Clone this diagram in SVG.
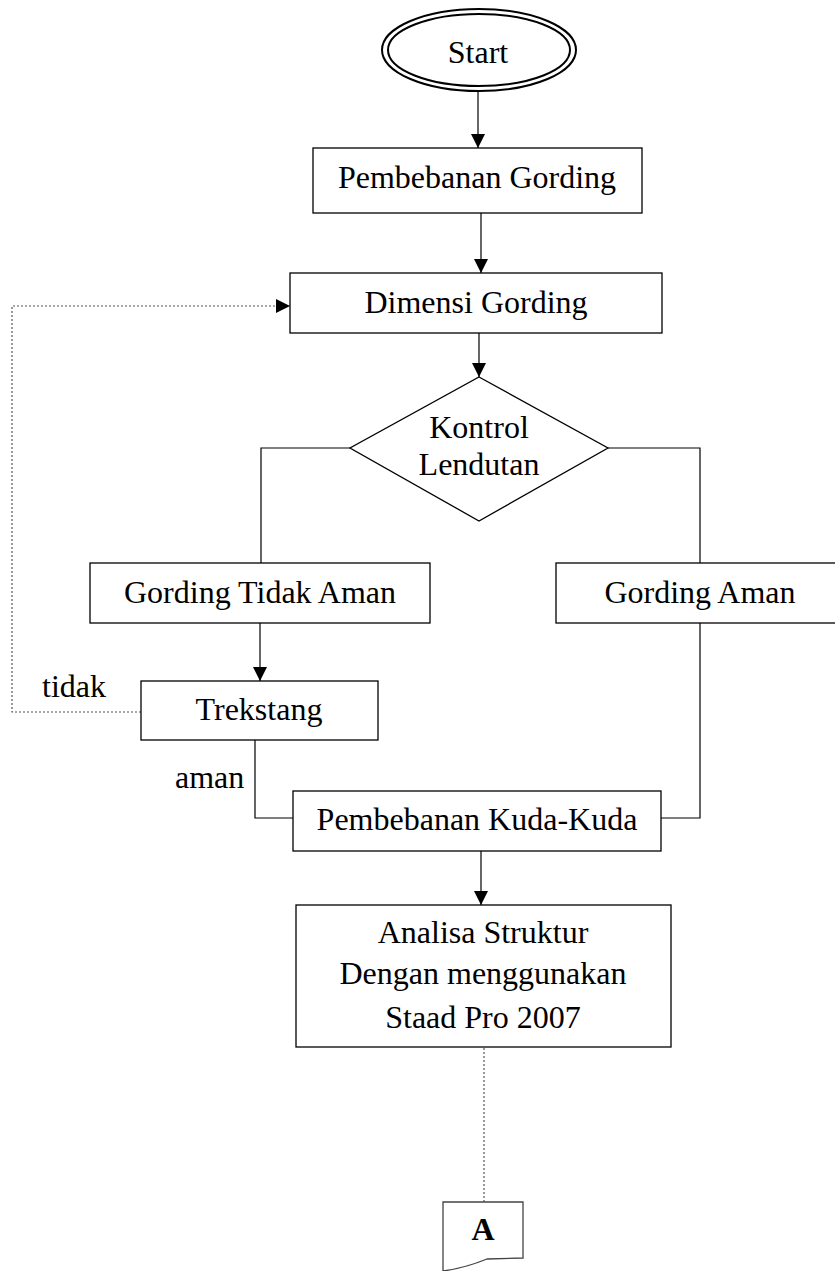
<svg xmlns="http://www.w3.org/2000/svg" width="835" height="1271" viewBox="0 0 835 1271">
<defs>
<style>
.box{fill:#fff;stroke:#000;stroke-width:1.3}
.t{font-family:"Liberation Serif","Times New Roman",serif;font-size:32px;fill:#000;text-anchor:middle}
.l{font-family:"Liberation Serif","Times New Roman",serif;font-size:32px;fill:#000}
.c{fill:none;stroke:#000;stroke-width:1.2}
.d{fill:none;stroke:#555;stroke-width:1.2;stroke-dasharray:2,2}
</style>
<marker id="ah2" viewBox="0 0 14 14" refX="14" refY="7" markerWidth="14" markerHeight="14" markerUnits="userSpaceOnUse" orient="auto">
<path d="M0,0 L14,7 L0,14 Z" fill="#000"/>
</marker>
</defs>
<rect width="835" height="1271" fill="#fff"/>
<g id="connectors">
<line class="c" x1="478" y1="91" x2="478" y2="148" marker-end="url(#ah2)"/>
<line class="c" x1="481" y1="213" x2="481" y2="273" marker-end="url(#ah2)"/>
<line class="c" x1="479" y1="333" x2="479" y2="377" stroke-width="2" marker-end="url(#ah2)"/>
<polyline class="c" points="350,448 261,448 261,563"/>
<polyline class="c" points="608,448 700,448 700,563"/>
<line class="c" x1="260" y1="623" x2="260" y2="681" marker-end="url(#ah2)"/>
<polyline class="c" points="255,740 255,818 293,818"/>
<polyline class="c" points="700,623 700,818 661,818"/>
<line class="c" x1="481" y1="851" x2="481" y2="905" marker-end="url(#ah2)"/>
<polyline class="d" points="141,712 12,712 12,306 290,306" marker-end="url(#ah2)"/>
<line class="d" x1="484" y1="1048" x2="484" y2="1202"/>
<text class="l" x="42" y="697">tidak</text>
<text class="l" x="175" y="788">aman</text>
</g>
<g id="start">
<ellipse cx="479" cy="50" rx="97" ry="41" fill="#fff" stroke="#000" stroke-width="2"/>
<ellipse cx="479" cy="50" rx="91" ry="36" fill="none" stroke="#000" stroke-width="2"/>
<text class="t" x="478" y="63">Start</text>
</g>
<g id="pembebanan-gording">
<rect class="box" x="313" y="148" width="329" height="65"/>
<text class="t" x="477" y="188">Pembebanan Gording</text>
</g>
<g id="dimensi-gording">
<rect class="box" x="290" y="273" width="372" height="60"/>
<text class="t" x="476" y="313">Dimensi Gording</text>
</g>
<g id="kontrol-lendutan">
<polygon class="box" points="479,377 608,448 479,521 350,448"/>
<text class="t" x="479" y="438">Kontrol</text>
<text class="t" x="479" y="475">Lendutan</text>
</g>
<g id="gording-tidak-aman">
<rect class="box" x="90" y="563" width="340" height="60"/>
<text class="t" x="260" y="603">Gording Tidak Aman</text>
</g>
<g id="gording-aman">
<rect class="box" x="556" y="563" width="290" height="60"/>
<text class="t" x="700" y="603">Gording Aman</text>
</g>
<g id="trekstang">
<rect class="box" x="141" y="681" width="237" height="59"/>
<text class="t" x="259" y="720">Trekstang</text>
</g>
<g id="pembebanan-kuda-kuda">
<rect class="box" x="293" y="791" width="368" height="60"/>
<text class="t" x="477" y="830">Pembebanan Kuda-Kuda</text>
</g>
<g id="analisa-struktur">
<rect class="box" x="296" y="905" width="375" height="142"/>
<text class="t" x="483" y="943">Analisa Struktur</text>
<text class="t" x="483" y="984">Dengan menggunakan</text>
<text class="t" x="483" y="1028">Staad Pro 2007</text>
</g>
<g id="connector-a">
<path d="M443,1202 L523,1202 L523,1258 L487,1259 Q465,1268 443,1271 Z" fill="#fff" stroke="#444" stroke-width="1.3"/>
<text class="t" x="483" y="1240" font-weight="bold">A</text>
</g>
</svg>
